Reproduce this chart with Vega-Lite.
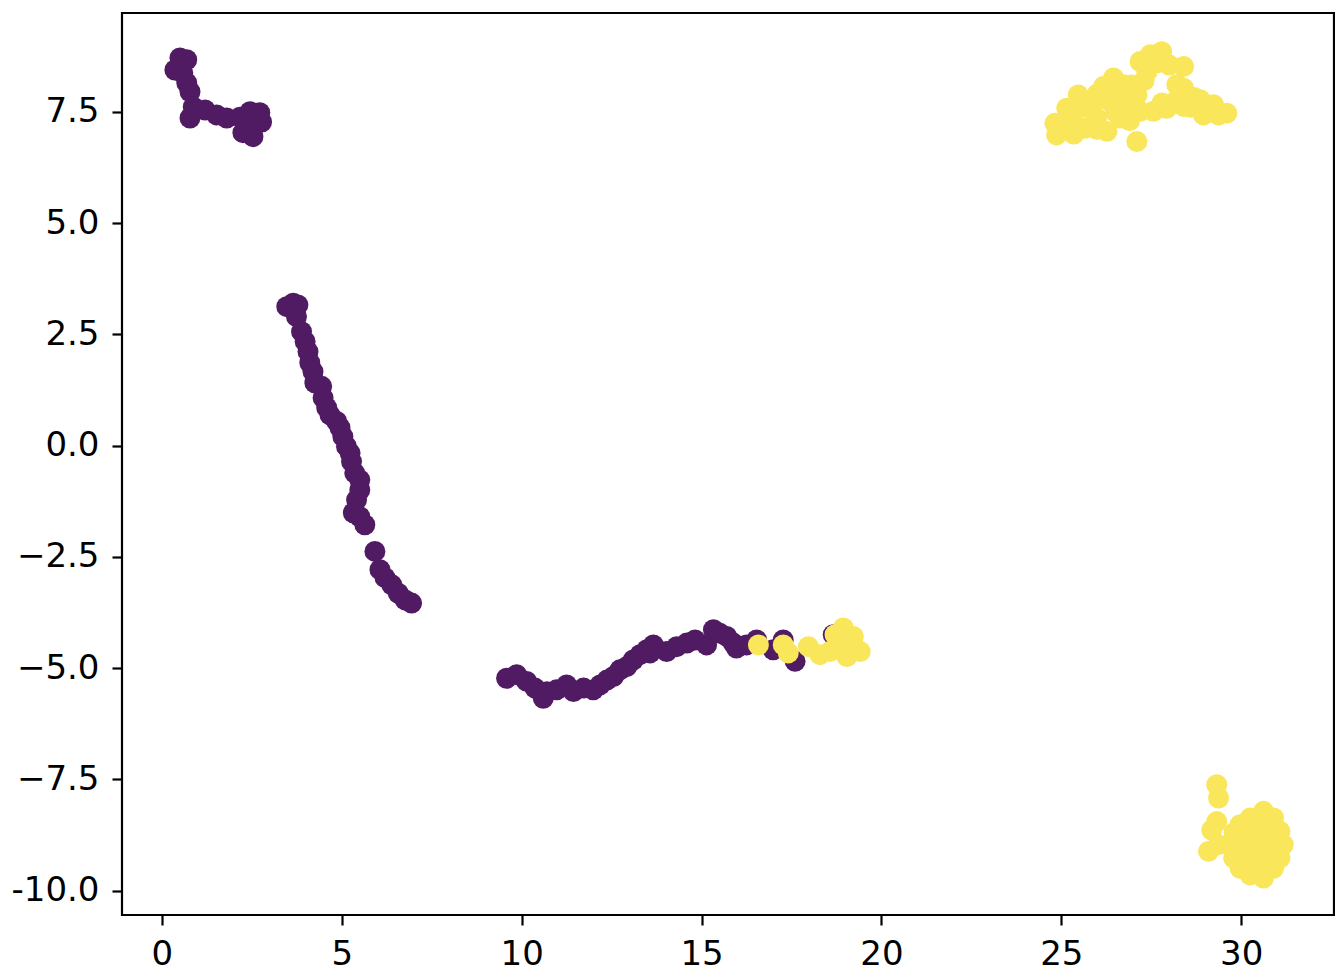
{
  "$schema": "https://vega.github.io/schema/vega-lite/v6.json",
  "autosize": {"type": "none"},
  "padding": {"left": 122, "top": 13, "right": 1, "bottom": 56},
  "width": 1212,
  "height": 902,
  "background": "white",
  "config": {
    "view": {"stroke": "black", "strokeWidth": 2.2},
    "axis": {
      "domain": false,
      "grid": false,
      "ticks": true,
      "tickColor": "black",
      "tickWidth": 2.2,
      "tickSize": 10,
      "labelFont": "DejaVu Sans",
      "labelFontSize": 34,
      "labelColor": "black",
      "title": null
    }
  },
  "data": {
    "values": [
      {"x": 0.50, "y": 8.71, "c": 0},
      {"x": 0.69, "y": 8.67, "c": 0},
      {"x": 0.36, "y": 8.44, "c": 0},
      {"x": 0.58, "y": 8.37, "c": 0},
      {"x": 0.69, "y": 8.15, "c": 0},
      {"x": 0.78, "y": 7.95, "c": 0},
      {"x": 0.87, "y": 7.61, "c": 0},
      {"x": 0.78, "y": 7.36, "c": 0},
      {"x": 1.20, "y": 7.54, "c": 0},
      {"x": 1.52, "y": 7.43, "c": 0},
      {"x": 1.80, "y": 7.36, "c": 0},
      {"x": 2.17, "y": 7.38, "c": 0},
      {"x": 2.45, "y": 7.50, "c": 0},
      {"x": 2.72, "y": 7.48, "c": 0},
      {"x": 2.25, "y": 7.03, "c": 0},
      {"x": 2.53, "y": 6.94, "c": 0},
      {"x": 2.77, "y": 7.27, "c": 0},
      {"x": 2.45, "y": 7.16, "c": 0},

      {"x": 3.65, "y": 3.20, "c": 0},
      {"x": 3.47, "y": 3.12, "c": 0},
      {"x": 3.78, "y": 3.16, "c": 0},
      {"x": 3.74, "y": 2.90, "c": 0},
      {"x": 3.88, "y": 2.56, "c": 0},
      {"x": 3.98, "y": 2.34, "c": 0},
      {"x": 4.06, "y": 2.11, "c": 0},
      {"x": 4.11, "y": 1.86, "c": 0},
      {"x": 4.20, "y": 1.66, "c": 0},
      {"x": 4.25, "y": 1.41, "c": 0},
      {"x": 4.44, "y": 1.33, "c": 0},
      {"x": 4.48, "y": 1.07, "c": 0},
      {"x": 4.58, "y": 0.85, "c": 0},
      {"x": 4.67, "y": 0.69, "c": 0},
      {"x": 4.86, "y": 0.54, "c": 0},
      {"x": 4.95, "y": 0.40, "c": 0},
      {"x": 5.03, "y": 0.20, "c": 0},
      {"x": 5.13, "y": -0.02, "c": 0},
      {"x": 5.23, "y": -0.17, "c": 0},
      {"x": 5.27, "y": -0.36, "c": 0},
      {"x": 5.36, "y": -0.62, "c": 0},
      {"x": 5.50, "y": -0.77, "c": 0},
      {"x": 5.50, "y": -1.00, "c": 0},
      {"x": 5.41, "y": -1.22, "c": 0},
      {"x": 5.32, "y": -1.51, "c": 0},
      {"x": 5.50, "y": -1.60, "c": 0},
      {"x": 5.64, "y": -1.78, "c": 0},
      {"x": 5.92, "y": -2.38, "c": 0},
      {"x": 6.06, "y": -2.79, "c": 0},
      {"x": 6.20, "y": -2.97, "c": 0},
      {"x": 6.39, "y": -3.13, "c": 0},
      {"x": 6.57, "y": -3.32, "c": 0},
      {"x": 6.76, "y": -3.47, "c": 0},
      {"x": 6.94, "y": -3.54, "c": 0},

      {"x": 9.58, "y": -5.23, "c": 0},
      {"x": 9.86, "y": -5.15, "c": 0},
      {"x": 10.14, "y": -5.30, "c": 0},
      {"x": 10.37, "y": -5.45, "c": 0},
      {"x": 10.60, "y": -5.68, "c": 0},
      {"x": 10.70, "y": -5.53, "c": 0},
      {"x": 10.97, "y": -5.49, "c": 0},
      {"x": 11.25, "y": -5.38, "c": 0},
      {"x": 11.44, "y": -5.53, "c": 0},
      {"x": 11.72, "y": -5.45, "c": 0},
      {"x": 11.99, "y": -5.49, "c": 0},
      {"x": 12.18, "y": -5.38, "c": 0},
      {"x": 12.37, "y": -5.27, "c": 0},
      {"x": 12.55, "y": -5.19, "c": 0},
      {"x": 12.73, "y": -5.04, "c": 0},
      {"x": 12.92, "y": -4.97, "c": 0},
      {"x": 13.10, "y": -4.82, "c": 0},
      {"x": 13.29, "y": -4.70, "c": 0},
      {"x": 13.48, "y": -4.59, "c": 0},
      {"x": 13.66, "y": -4.48, "c": 0},
      {"x": 13.57, "y": -4.66, "c": 0},
      {"x": 14.03, "y": -4.63, "c": 0},
      {"x": 14.31, "y": -4.52, "c": 0},
      {"x": 14.59, "y": -4.44, "c": 0},
      {"x": 14.82, "y": -4.37, "c": 0},
      {"x": 15.14, "y": -4.48, "c": 0},
      {"x": 15.33, "y": -4.14, "c": 0},
      {"x": 15.51, "y": -4.22, "c": 0},
      {"x": 15.70, "y": -4.29, "c": 0},
      {"x": 15.88, "y": -4.44, "c": 0},
      {"x": 15.97, "y": -4.55, "c": 0},
      {"x": 16.25, "y": -4.48, "c": 0},
      {"x": 16.53, "y": -4.37, "c": 0},
      {"x": 17.27, "y": -4.37, "c": 0},
      {"x": 16.99, "y": -4.59, "c": 0},
      {"x": 17.60, "y": -4.85, "c": 0},
      {"x": 18.66, "y": -4.25, "c": 0},

      {"x": 16.58, "y": -4.48, "c": 1},
      {"x": 17.27, "y": -4.48, "c": 1},
      {"x": 17.41, "y": -4.66, "c": 1},
      {"x": 17.97, "y": -4.52, "c": 1},
      {"x": 18.29, "y": -4.70, "c": 1},
      {"x": 18.57, "y": -4.63, "c": 1},
      {"x": 18.85, "y": -4.48, "c": 1},
      {"x": 18.94, "y": -4.10, "c": 1},
      {"x": 18.71, "y": -4.25, "c": 1},
      {"x": 19.22, "y": -4.29, "c": 1},
      {"x": 19.41, "y": -4.63, "c": 1},
      {"x": 19.04, "y": -4.74, "c": 1},

      {"x": 24.87, "y": 6.98, "c": 1},
      {"x": 24.82, "y": 7.24, "c": 1},
      {"x": 25.15, "y": 7.58, "c": 1},
      {"x": 25.47, "y": 7.88, "c": 1},
      {"x": 25.66, "y": 7.13, "c": 1},
      {"x": 25.98, "y": 7.36, "c": 1},
      {"x": 26.17, "y": 8.07, "c": 1},
      {"x": 26.45, "y": 8.26, "c": 1},
      {"x": 26.36, "y": 7.73, "c": 1},
      {"x": 26.27, "y": 7.06, "c": 1},
      {"x": 26.63, "y": 7.36, "c": 1},
      {"x": 26.82, "y": 7.73, "c": 1},
      {"x": 26.73, "y": 8.11, "c": 1},
      {"x": 27.10, "y": 7.88, "c": 1},
      {"x": 27.19, "y": 8.63, "c": 1},
      {"x": 27.47, "y": 8.78, "c": 1},
      {"x": 27.79, "y": 8.85, "c": 1},
      {"x": 27.38, "y": 8.40, "c": 1},
      {"x": 27.10, "y": 6.83, "c": 1},
      {"x": 27.56, "y": 7.51, "c": 1},
      {"x": 27.93, "y": 7.58, "c": 1},
      {"x": 28.40, "y": 8.52, "c": 1},
      {"x": 28.21, "y": 8.11, "c": 1},
      {"x": 28.40, "y": 8.03, "c": 1},
      {"x": 28.40, "y": 7.62, "c": 1},
      {"x": 28.86, "y": 7.77, "c": 1},
      {"x": 29.23, "y": 7.66, "c": 1},
      {"x": 28.95, "y": 7.43, "c": 1},
      {"x": 29.60, "y": 7.47, "c": 1},
      {"x": 29.37, "y": 7.43, "c": 1},
      {"x": 27.19, "y": 7.51, "c": 1},
      {"x": 25.30, "y": 7.30, "c": 1},
      {"x": 25.60, "y": 7.60, "c": 1},
      {"x": 25.90, "y": 7.70, "c": 1},
      {"x": 26.00, "y": 7.90, "c": 1},
      {"x": 26.50, "y": 7.50, "c": 1},
      {"x": 26.90, "y": 7.30, "c": 1},
      {"x": 26.50, "y": 7.95, "c": 1},
      {"x": 26.95, "y": 8.10, "c": 1},
      {"x": 27.30, "y": 8.20, "c": 1},
      {"x": 27.65, "y": 8.60, "c": 1},
      {"x": 28.00, "y": 8.55, "c": 1},
      {"x": 27.80, "y": 7.70, "c": 1},
      {"x": 28.15, "y": 7.72, "c": 1},
      {"x": 28.60, "y": 7.60, "c": 1},
      {"x": 28.70, "y": 7.82, "c": 1},
      {"x": 29.00, "y": 7.62, "c": 1},
      {"x": 26.00, "y": 7.10, "c": 1},
      {"x": 25.35, "y": 7.00, "c": 1},
      {"x": 25.10, "y": 7.20, "c": 1},

      {"x": 29.32, "y": -7.62, "c": 1},
      {"x": 29.37, "y": -7.92, "c": 1},
      {"x": 29.32, "y": -8.45, "c": 1},
      {"x": 29.18, "y": -8.64, "c": 1},
      {"x": 29.09, "y": -9.12, "c": 1},
      {"x": 29.37, "y": -8.97, "c": 1},
      {"x": 29.97, "y": -8.52, "c": 1},
      {"x": 30.25, "y": -8.37, "c": 1},
      {"x": 30.62, "y": -8.22, "c": 1},
      {"x": 30.90, "y": -8.37, "c": 1},
      {"x": 31.08, "y": -8.67, "c": 1},
      {"x": 31.17, "y": -8.97, "c": 1},
      {"x": 31.08, "y": -9.27, "c": 1},
      {"x": 30.90, "y": -9.50, "c": 1},
      {"x": 30.62, "y": -9.72, "c": 1},
      {"x": 30.25, "y": -9.65, "c": 1},
      {"x": 29.97, "y": -9.50, "c": 1},
      {"x": 29.79, "y": -9.27, "c": 1},
      {"x": 29.88, "y": -8.97, "c": 1},
      {"x": 30.34, "y": -8.82, "c": 1},
      {"x": 30.62, "y": -9.12, "c": 1},
      {"x": 30.34, "y": -9.27, "c": 1},
      {"x": 30.80, "y": -8.82, "c": 1},
      {"x": 30.16, "y": -9.05, "c": 1},
      {"x": 30.71, "y": -9.42, "c": 1},
      {"x": 30.00, "y": -8.80, "c": 1},
      {"x": 30.40, "y": -8.60, "c": 1},
      {"x": 30.80, "y": -8.60, "c": 1},
      {"x": 30.50, "y": -9.40, "c": 1},
      {"x": 30.10, "y": -9.30, "c": 1},
      {"x": 30.90, "y": -9.10, "c": 1},
      {"x": 30.45, "y": -9.00, "c": 1},
      {"x": 30.60, "y": -8.50, "c": 1},
      {"x": 29.80, "y": -8.70, "c": 1}
    ]
  },
  "mark": {"type": "point", "filled": true, "shape": "circle", "size": 440, "opacity": 1, "clip": true},
  "encoding": {
    "x": {
      "field": "x", "type": "quantitative",
      "scale": {"domain": [-1.11, 32.58], "nice": false, "zero": false},
      "axis": {"values": [0, 5, 10, 15, 20, 25, 30], "labelPadding": 12, "format": "d"}
    },
    "y": {
      "field": "y", "type": "quantitative",
      "scale": {"domain": [-10.55, 9.72], "nice": false, "zero": false},
      "axis": {
        "values": [-10, -7.5, -5, -2.5, 0, 2.5, 5, 7.5],
        "labelPadding": 13,
        "labelExpr": "datum.value == -10 ? '-10.0' : format(datum.value, '.1f')"
      }
    },
    "color": {
      "field": "c", "type": "nominal",
      "scale": {"domain": [0, 1], "range": ["#501b62", "#fae65a"]},
      "legend": null
    }
  }
}
